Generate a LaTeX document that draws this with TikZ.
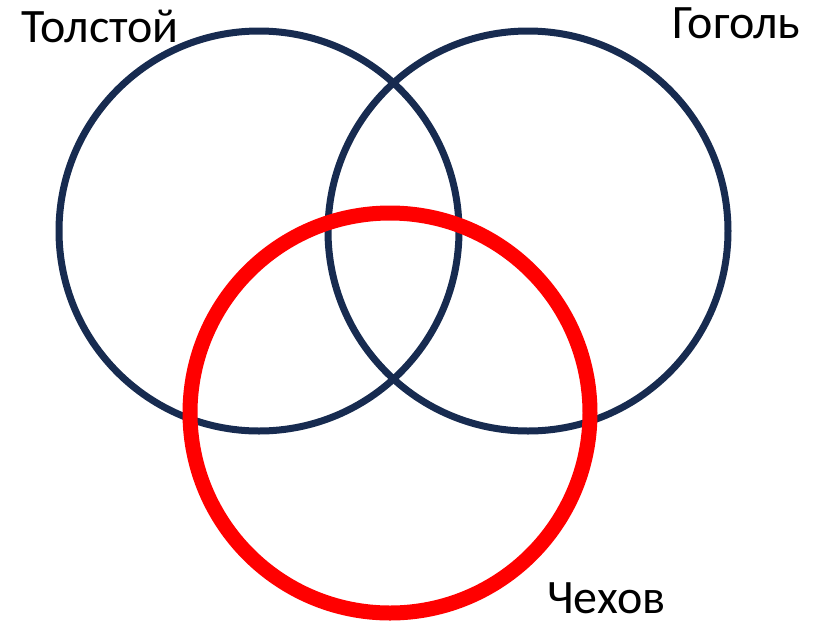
\documentclass[tikz,border=0pt]{standalone}
\usepackage{fontspec}
\setmainfont{Carlito}
\usepackage{xcolor}
\usetikzlibrary{positioning}

\definecolor{navy}{RGB}{23,43,80}
\definecolor{chred}{RGB}{255,0,0}

\begin{document}
\begin{tikzpicture}[
    x=1pt, y=-1pt,
    ring/.style={circle, draw=navy, line width=7pt, minimum size=400pt, inner sep=0pt},
    redring/.style={circle, draw=chred, line width=15pt, minimum size=400pt, inner sep=0pt},
    lbl/.style={anchor=base west, inner sep=0pt, font=\fontsize{48}{58}\selectfont},
]
\useasboundingbox (0,0) rectangle (820,625);

% Circles
\node[ring] (tolstoy) at (259,231) {};
\node[ring] (gogol) at (528,231) {};
\node[redring] (chekhov) at (390,413) {};

% Labels
\node[lbl] (ltolstoy) at (21,42) {Толстой};
\node[lbl] (lgogol) at (672,38) {Гоголь};
\node[lbl] (lchekhov) at (547,613) {Чехов};

\end{tikzpicture}
\end{document}
